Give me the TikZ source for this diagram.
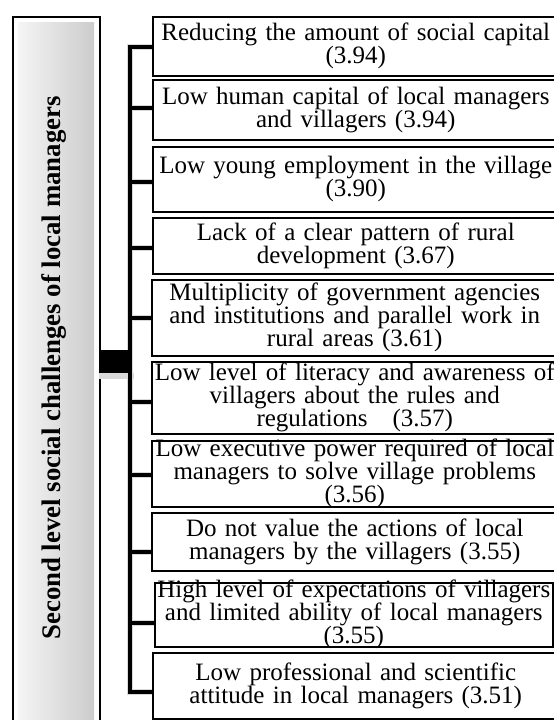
\documentclass[tikz,border=0pt]{standalone}
\usepackage{fontspec}
\setmainfont{Liberation Serif}
\begin{document}
\begin{tikzpicture}[x=1pt,y=-1pt,
  box/.style={draw=black, line width=1.5pt, fill=white, minimum width=406pt,
    inner xsep=0pt, inner ysep=-10pt, text width=400pt, align=center,
    anchor=north west, font=\fontsize{25}{23}\selectfont},
  conn/.style={line width=3.5pt, line cap=rect},
  shadowline/.style={line width=6pt, draw=gray!30, line cap=rect, xshift=2.5pt, yshift=-2.5pt},
  sidebox/.style={draw=black, line width=2pt, minimum width=87pt, minimum height=712pt,
    anchor=north west, inner sep=0pt},
  titletext/.style={rotate=90, font=\fontsize{26.8}{27}\bfseries\selectfont}]
\useasboundingbox (0,0) rectangle (554,720);
\begin{scope}
\clip (0,0) rectangle (554,720);
% left box
\node[sidebox] (side) at (12,16) {};
\shade[left color=gray!8, right color=gray!40] (18,22) rectangle (94,722);
\node[titletext] (title) at (54,368) {Second level social challenges of local managers};
% spine coordinates
\coordinate (t1) at (130,47);
\coordinate (t2) at (130,108);
\coordinate (t3) at (130,182);
\coordinate (t4) at (130,248);
\coordinate (t5) at (130,318);
\coordinate (t6) at (130,402);
\coordinate (t7) at (130,475);
\coordinate (t8) at (130,552);
\coordinate (t9) at (130,623);
\coordinate (t10) at (130,692);
\coordinate (hub) at (131.75,361.5);
% shadows
\draw[shadowline] (t1) -- (t10);
\foreach \i in {1,...,10} {\draw[shadowline] (t\i) -- ++(22,0);}
\fill[gray!30] (99,373) rectangle (134,379);
% boxes
\node[box, minimum height=59pt] (b1) at (152,16) {Reducing the amount of social capital\\(3.94)};
\node[box, minimum height=60pt] (b2) at (152,79) {Low human capital of local managers\\and villagers (3.94)};
\node[box, minimum height=65pt] (b3) at (152,146) {Low young employment in the village\\(3.90)};
\node[box, minimum height=56pt] (b4) at (152,217) {Lack of a clear pattern of rural\\development (3.67)};
\node[box, minimum height=76pt] (b5) at (151,279) {Multiplicity of government agencies\\and institutions and parallel work in\\rural areas (3.61)};
\node[box, minimum height=72pt] (b6) at (151,361) {Low level of literacy and awareness of\\villagers about the rules and\\regulations\ \ \ (3.57)};
\node[box, minimum height=66pt] (b7) at (151,440) {Low executive power required of local\\managers to solve village problems\\(3.56)};
\node[box, minimum height=58pt] (b8) at (151,512) {Do not value the actions of local\\managers by the villagers (3.55)};
\node[box, minimum height=64pt, minimum width=398pt, text width=396pt] (b9) at (154,582) {High level of expectations of villagers\\and limited ability of local managers\\(3.55)};
\node[box, minimum height=66pt] (b10) at (152,652) {Low professional and scientific\\attitude in local managers (3.51)};
% connectors
\draw[conn] (t1) -- (t10);
\foreach \i in {1,...,10} {\draw[conn] (t\i) -- (b\i.west |- t\i);}
\draw[line width=23pt] (side.east |- hub) -- (hub);
\end{scope}
\end{tikzpicture}
\end{document}
